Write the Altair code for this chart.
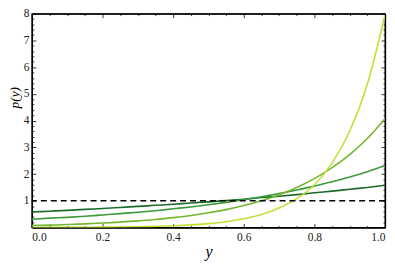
import altair as alt
import pandas as pd

# x positions (y on the horizontal axis)
ys = [0.00, 0.05, 0.10, 0.15, 0.20, 0.25, 0.30, 0.35, 0.40, 0.45, 0.50,
      0.55, 0.60, 0.65, 0.70, 0.75, 0.80, 0.85, 0.90, 0.95, 1.00]

# density curves (darkest to lightest)
p_dark = [0.58, 0.61, 0.64, 0.68, 0.71, 0.75, 0.79, 0.83, 0.87, 0.92, 0.96,
          1.01, 1.06, 1.12, 1.17, 1.23, 1.30, 1.36, 1.43, 1.50, 1.58]
p_mid = [0.31, 0.35, 0.38, 0.42, 0.47, 0.52, 0.57, 0.63, 0.70, 0.77, 0.85,
         0.94, 1.04, 1.15, 1.27, 1.40, 1.55, 1.71, 1.89, 2.09, 2.31]
p_light = [0.075, 0.091, 0.11, 0.136, 0.17, 0.203, 0.25, 0.30, 0.37, 0.45, 0.55,
           0.67, 0.82, 1.00, 1.23, 1.50, 1.83, 2.24, 2.73, 3.33, 4.07]
p_yellow = [0.003, 0.004, 0.006, 0.009, 0.013, 0.020, 0.030, 0.044, 0.066, 0.098, 0.146,
            0.218, 0.33, 0.486, 0.73, 1.08, 1.60, 2.41, 3.60, 5.36, 7.95]

series_names = ["a1", "a2", "a4", "a8"]
series_colors = ["#1b6b2c", "#3c9a3a", "#72b62e", "#c4df34"]
ref_level = [1]

x_major = [0.0, 0.2, 0.4, 0.6, 0.8, 1.0]
x_minor = [0.05, 0.1, 0.15, 0.25, 0.3, 0.35, 0.45, 0.5, 0.55, 0.65, 0.7, 0.75, 0.85, 0.9, 0.95]
y_major = [1, 2, 3, 4, 5, 6, 7, 8]
y_minor = [v / 5 for v in range(1, 40) if v % 5 != 0]

W, H = 355, 215
FONT = "Liberation Serif"

rows = []
for name, vals in zip(series_names, [p_dark, p_mid, p_light, p_yellow]):
    for x, v in zip(ys, vals):
        rows.append({"y": x, "p": v, "series": name})
df = pd.DataFrame(rows)
ref_df = pd.DataFrame({"level": ref_level})

xscale = alt.Scale(domain=[0, 1], nice=False, zero=False)
yscale = alt.Scale(domain=[0, 8], nice=False, zero=False)

lines = alt.Chart(df).mark_line(strokeWidth=1.6, interpolate="monotone", clip=True).encode(
    x=alt.X("y:Q", scale=xscale, axis=alt.Axis(
        orient="bottom", values=x_major, format=".1f", ticks=False, domain=False, grid=False,
        title="y", titleFont=FONT, titleFontSize=16, titleFontStyle="italic", titleFontWeight="normal",
        titleColor="black", titleBaseline="alphabetic", titleY=29,
        labelFont=FONT, labelFontSize=11.5, labelColor="#222", labelPadding=4)),
    y=alt.Y("p:Q", scale=yscale, axis=alt.Axis(
        orient="left", values=y_major, ticks=False, domain=False, grid=False,
        title="p(y)", titleFont=FONT, titleFontSize=13.5, titleFontStyle="italic", titleFontWeight="normal",
        titleColor="black", titleAngle=-90, titleAlign="center", titleBaseline="middle",
        titleX=-17, titleY=84,
        labelFont=FONT, labelFontSize=11.5, labelColor="#222", labelPadding=3)),
    color=alt.Color("series:N", scale=alt.Scale(domain=series_names, range=series_colors), legend=None),
    detail="series:N",
)

ref = alt.Chart(ref_df).mark_rule(color="black", strokeWidth=1.5, strokeDash=[6, 4]).encode(
    y=alt.Y("level:Q", scale=yscale, axis=None),
)


def tick_axis(orient, offset, values, size, domain):
    return alt.Axis(orient=orient, offset=offset, values=values, labels=False, domain=domain,
                    domainColor="black", domainWidth=1.3,
                    grid=False, ticks=True, tickSize=size, tickColor="black", tickWidth=0.8,
                    title=None)


def tick_layer(xaxis, yaxis):
    return alt.Chart(df).mark_point(opacity=0).encode(
        x=alt.X("y:Q", scale=xscale, axis=xaxis),
        y=alt.Y("p:Q", scale=yscale, axis=yaxis),
    )


t1 = tick_layer(tick_axis("top", -H, x_major, 4, True), tick_axis("right", -W, y_major, 4, True))
t2 = tick_layer(tick_axis("top", -H, x_minor, 2, False), tick_axis("right", -W, y_minor, 2, False))
t3 = tick_layer(tick_axis("bottom", -H, x_major, 4, True), tick_axis("left", -W, y_major, 4, True))
t4 = tick_layer(tick_axis("bottom", -H, x_minor, 2, False), tick_axis("left", -W, y_minor, 2, False))

chart = alt.layer(lines, ref, t1, t2, t3, t4).resolve_axis(
    x="independent", y="independent"
).properties(
    width=W, height=H,
    autosize=alt.AutoSizeParams(type="none"),
    padding={"left": 24, "top": 5, "right": 2, "bottom": 36},
).configure_view(
    stroke="black", strokeWidth=1.3
).configure_axis(
    labelFont=FONT, titleFont=FONT
)

chart.save("out.html", embed_options={"renderer": "svg", "actions": False})
